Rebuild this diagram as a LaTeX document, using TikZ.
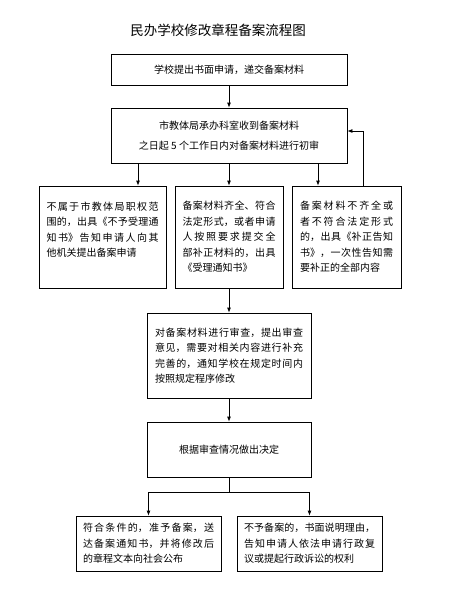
\documentclass[tikz,border=0pt]{standalone}
\usepackage{fontspec}
\setmainfont{Noto Sans CJK SC}
\XeTeXlinebreaklocale "zh"
\XeTeXlinebreakskip=0pt plus 3pt
\usetikzlibrary{arrows.meta}
\tikzset{
  box/.style={draw=black, line width=0.8pt, inner xsep=6pt, inner ysep=3pt,
    font=\fontsize{10}{15.5}\selectfont},
  jbox/.style={box, align=justify},
  cbox/.style={box, align=center},
  arr/.style={line width=0.8pt, -{Latex[length=5pt,width=4pt]}},
  ln/.style={line width=0.8pt}
}
\begin{document}
\begin{tikzpicture}[x=1pt,y=-1pt]
\useasboundingbox (0,0) rectangle (469,589);
\node (title) at (218,30) {\fontsize{13.5}{16}\selectfont 民办学校修改章程备案流程图};
\node[cbox, minimum width=236, minimum height=31] (b1) at (229,69.5) {学校提出书面申请，递交备案材料};
\node[cbox, minimum width=236, minimum height=55, font=\fontsize{10}{20}\selectfont] (b2) at (229,135.5) {市教体局承办科室收到备案材料\\之日起 5 个工作日内对备案材料进行初审};
\node[jbox, minimum width=127, minimum height=102, text width=112] (b3) at (102.5,237) {不属于市教体局职权范\linebreak 围的，出具《不予受理通\linebreak 知书》告知申请人向其\linebreak 他机关提出备案申请\hfill\break\mbox{}};
\node[jbox, minimum width=108, minimum height=102, text width=93] (b4) at (229,237) {备案材料齐全、符合\linebreak 法定形式，或者申请\linebreak 人按照要求提交全\linebreak 部补正材料的，出具\linebreak 《受理通知书》};
\node[jbox, minimum width=109, minimum height=102, text width=93] (b5) at (346.5,237) {备案材料不齐全或\linebreak 者不符合法定形式\linebreak 的，出具《补正告知\linebreak 书》，一次性告知需\linebreak 要补正的全部内容};
\node[jbox, minimum width=164, minimum height=85, text width=148] (b6) at (229,355.5) {对备案材料进行审查，提出审查\linebreak 意见，需要对相关内容进行补充\linebreak 完善的，通知学校在规定时间内\linebreak 按照规定程序修改};
\node[cbox, minimum width=164, minimum height=55] (b7) at (229,449.5) {根据审查情况做出决定};
\node[jbox, minimum width=145, minimum height=55, text width=131] (b8) at (148.5,543.5) {符合条件的，准予备案，送\linebreak 达备案通知书，并将修改后\linebreak 的章程文本向社会公布};
\node[jbox, minimum width=145, minimum height=55, text width=131] (b9) at (309.5,543.5) {不予备案的，书面说明理由，\linebreak 告知申请人依法申请行政复\linebreak 议或提起行政诉讼的权利};
\draw[arr] (b1.south) -- (b2.north);
\draw[arr] (b2.south -| 138,0) -- (b3.north -| 138,0);
\draw[arr] (b2.south) -- (b4.north);
\draw[arr] (b2.south -| 318,0) -- (b5.north -| 318,0);
\draw[arr] (b5.north -| 363,0) |- (b2.east |- 0,131);
\draw[arr] (b4.south) -- (b6.north);
\draw[arr] (b6.south) -- (b7.north);
\draw[ln] (b7.south) -- (b7.south |- 0,492) coordinate (split);
\draw[arr] (split) -| (b8.north);
\draw[arr] (split) -| (b9.north);
\end{tikzpicture}
\end{document}
